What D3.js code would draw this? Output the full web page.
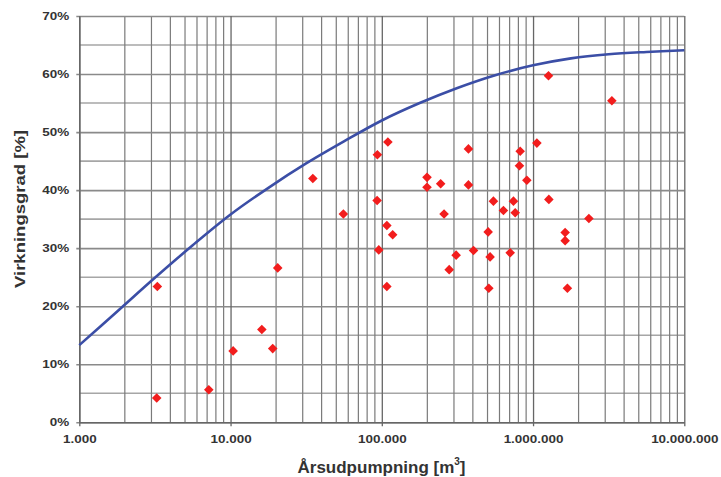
<!DOCTYPE html>
<html>
<head>
<meta charset="utf-8">
<script src="https://cdn.jsdelivr.net/npm/d3@7"></script>
<style>
  body { margin: 0; background: #fff; }
  svg { display: block; font-family: "Liberation Sans", Arial, sans-serif; }
</style>
</head>
<body>
<svg id="chart"></svg>
<script>
// measured pumping sites: yearly volume [m3] and efficiency [%]
const pumpVolume = [3280, 3250, 7180, 10400, 16100, 19000, 20500, 35000, 55700,
  93500, 109700, 93100, 95500, 108000, 118000, 108000,
  199000, 199000, 245000, 258000, 279000, 310000, 374000, 374000, 404000,
  505000, 510000, 520000, 547000, 637000, 706000, 742000, 762000, 822000,
  813000, 910000, 1060000, 1265000, 1272000, 1630000, 1630000, 1687000,
  2340000, 3320000];
const efficiency = [23.4, 4.2, 5.6, 12.3, 16.0, 12.7, 26.6, 42.0, 35.9,
  46.1, 48.3, 38.2, 29.7, 33.9, 32.3, 23.4,
  42.2, 40.5, 41.1, 35.9, 26.3, 28.8, 47.1, 40.9, 29.6,
  32.8, 23.1, 28.5, 38.1, 36.5, 29.2, 38.1, 36.1, 46.7,
  44.2, 41.7, 48.1, 59.7, 38.4, 32.7, 31.3, 23.1,
  35.1, 55.4];

// upper curve
const curveVolume = [1000, 1780, 3160, 5620, 10000, 17800, 31600, 56200, 100000,
  178000, 316000, 562000, 1000000, 1780000, 3160000, 5620000, 10000000];
const curveEff = [13.3, 19.1, 24.9, 30.5, 35.8, 40.4, 44.6, 48.4, 52.0,
  55.0, 57.6, 59.8, 61.5, 62.7, 63.4, 63.8, 64.1];

const xTicks = [1000, 10000, 100000, 1000000, 10000000];
const yTicks = [0, 10, 20, 30, 40, 50, 60, 70];

const width = 721,
      height = 477,
      plotLeft = 79.3,
      plotRight = 684.3,
      plotTop = 16,
      plotBottom = 422.3;

const locale = d3.formatLocale({decimal: ',', thousands: '.', grouping: [3], currency: ['', '']});
const fmt = locale.format(',d');

const svg = d3.select('#chart')
    .attr('width', width)
    .attr('height', height);

const xScale = d3.scaleLog()
    .domain([1000, 10000000])
    .range([plotLeft, plotRight]);
const yScale = d3.scaleLinear()
    .domain([0, 70])
    .range([plotBottom, plotTop]);

// minor vertical grid: 2..9 of every decade
const minorX = [];
for (let dec = 1000; dec < 10000000; dec *= 10) {
  for (let m = 2; m <= 9; m++) minorX.push(dec * m);
}

const grid = svg.append('g');

grid.selectAll('line.h5')
  .data(d3.range(5, 70, 10))
  .enter()
  .append('line')
    .attr('x1', plotLeft).attr('x2', plotRight)
    .attr('y1', (d) => yScale(d)).attr('y2', (d) => yScale(d))
    .attr('stroke', '#a6a6a6')
    .attr('stroke-width', 1.6);

grid.selectAll('line.vmin')
  .data(minorX)
  .enter()
  .append('line')
    .attr('x1', (d) => xScale(d)).attr('x2', (d) => xScale(d))
    .attr('y1', plotTop).attr('y2', plotBottom)
    .attr('stroke', '#7a7a7a')
    .attr('stroke-width', 1.2);

// axes with grid lines
const yAxis = d3.axisLeft(yScale)
    .tickValues(yTicks)
    .tickFormat((d) => d + '%')
    .tickSize(-(plotRight - plotLeft))
    .tickPadding(10)
    .tickSizeOuter(0);

const xAxis = d3.axisBottom(xScale)
    .tickValues(xTicks)
    .tickFormat(fmt)
    .tickSize(-(plotBottom - plotTop))
    .tickPadding(13)
    .tickSizeOuter(0);

const yG = svg.append('g')
    .attr('transform', `translate(${plotLeft}, 0)`)
    .call(yAxis);
yG.select('.domain').attr('stroke', '#666').attr('stroke-width', 1.4);
yG.selectAll('.tick line')
    .attr('x1', -3)
    .attr('stroke', '#8a8a8a')
    .attr('stroke-width', 1.6);

const xG = svg.append('g')
    .attr('transform', `translate(0, ${plotBottom})`)
    .call(xAxis);
xG.select('.domain').attr('stroke', '#666').attr('stroke-width', 1.4);
xG.selectAll('.tick line')
    .attr('y1', 4)
    .attr('stroke', '#666')
    .attr('stroke-width', 1.3);

svg.selectAll('.tick text')
    .attr('font-family', '"Liberation Sans", Arial, sans-serif')
    .attr('font-size', 11.5)
    .attr('font-weight', 'bold')
    .attr('fill', '#333')
    .each(function () {
      const w = this.getComputedTextLength();
      d3.select(this).attr('textLength', w * 1.17).attr('lengthAdjust', 'spacingAndGlyphs');
    });

// curve
const line = d3.line()
    .x((d, i) => xScale(curveVolume[i]))
    .y((d) => yScale(d))
    .curve(d3.curveCatmullRom);

svg.append('path')
    .datum(curveEff)
    .attr('d', line)
    .attr('fill', 'none')
    .attr('stroke', '#3b4ea6')
    .attr('stroke-width', 2.6);

// points
svg.append('g')
  .selectAll('path')
  .data(efficiency)
  .enter()
  .append('path')
    .attr('d', d3.symbol(d3.symbolSquare, 46))
    .attr('transform', (d, i) => `translate(${xScale(pumpVolume[i])}, ${yScale(d)}) rotate(45)`)
    .attr('fill', '#f21d1d');

// titles
svg.append('text')
    .text('Virkningsgrad [%]')
    .attr('transform', 'translate(25, 209) rotate(-90)')
    .attr('text-anchor', 'middle')
    .attr('font-size', 14.5)
    .attr('font-weight', 'bold')
    .attr('fill', '#333')
    .attr('textLength', 158)
    .attr('lengthAdjust', 'spacingAndGlyphs');

const xt = svg.append('text')
    .attr('x', 381.5)
    .attr('y', 473)
    .attr('text-anchor', 'middle')
    .attr('font-size', 17)
    .attr('font-weight', 'bold')
    .attr('fill', '#333');
xt.append('tspan').text('Årsudpumpning [m');
xt.append('tspan').text('3').attr('font-size', 10).attr('dy', -8);
xt.append('tspan').text(']').attr('dy', 8);
</script>
</body>
</html>
